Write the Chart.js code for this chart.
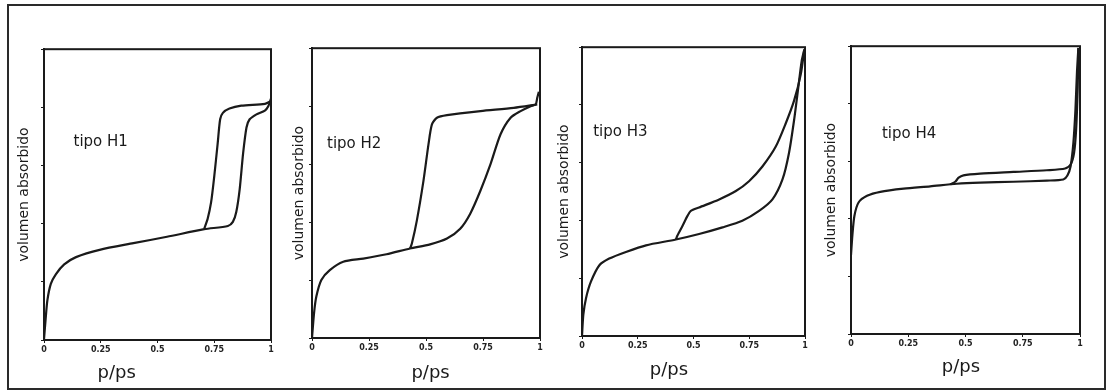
<!DOCTYPE html>
<html lang="es">
<head>
<meta charset="UTF-8">
<title>Tipos de histéresis</title>
<script src="https://cdn.jsdelivr.net/npm/chart.js"></script>
<style>
  body { margin: 0; background: #fff; }
  #marco { position: absolute; left: 7px; top: 4px; width: 1095px; height: 382px; border: 2px solid #2a2a2a; }
  canvas { position: absolute; }
</style>
</head>
<body>
<div id="marco"></div>
<canvas id="g1" width="267" height="351" style="left:12px;top:39px"></canvas>
<canvas id="g2" width="268" height="350" style="left:280px;top:38px"></canvas>
<canvas id="g3" width="263" height="349" style="left:550px;top:37px"></canvas>
<canvas id="g4" width="269" height="348" style="left:819px;top:36px"></canvas>

<script>
// etiquetas y ejes
const tipos = ['tipo H1', 'tipo H2', 'tipo H3', 'tipo H4'];
const tituloX = 'p/ps';
const tituloY = 'volumen absorbido';
const xTicks = [0, 0.25, 0.5, 0.75, 1];
const yTicks = [0, 0.2, 0.4, 0.6, 0.8, 1];

// curvas: [p/ps, volumen normalizado]
const h1Adsorcion = [[0, 0.002], [0.007, 0.07], [0.015, 0.137], [0.03, 0.193], [0.052, 0.226], [0.089, 0.26],
  [0.141, 0.285], [0.245, 0.31], [0.394, 0.333], [0.542, 0.355], [0.706, 0.381], [0.81, 0.392], [0.832, 0.406],
  [0.847, 0.44], [0.862, 0.518], [0.877, 0.641], [0.892, 0.731], [0.906, 0.759], [0.936, 0.776], [0.973, 0.789],
  [0.988, 0.804], [1.0, 0.83]];
const h1Desorcion = [[0.996, 0.82], [0.973, 0.812], [0.869, 0.806], [0.817, 0.796], [0.788, 0.781], [0.776, 0.759],
  [0.765, 0.675], [0.75, 0.563], [0.736, 0.473], [0.721, 0.417], [0.706, 0.383]];

const h2Adsorcion = [[0, 0], [0.009, 0.086], [0.019, 0.143], [0.041, 0.2], [0.078, 0.234], [0.137, 0.263],
  [0.225, 0.274], [0.327, 0.289], [0.43, 0.309], [0.518, 0.323], [0.592, 0.343], [0.65, 0.377], [0.694, 0.429],
  [0.739, 0.509], [0.783, 0.6], [0.827, 0.703], [0.871, 0.76], [0.915, 0.783], [0.959, 0.8], [0.981, 0.806],
  [0.988, 0.829], [0.995, 0.85]];
const h2Desorcion = [[0.988, 0.806], [0.885, 0.794], [0.739, 0.783], [0.592, 0.769], [0.548, 0.76], [0.526, 0.737],
  [0.511, 0.669], [0.489, 0.543], [0.46, 0.406], [0.438, 0.326], [0.43, 0.309]];

const h3Adsorcion = [[0, 0], [0.006, 0.074], [0.018, 0.131], [0.04, 0.188], [0.078, 0.245], [0.122, 0.268],
  [0.197, 0.291], [0.287, 0.314], [0.421, 0.334], [0.525, 0.353], [0.63, 0.376], [0.719, 0.399], [0.794, 0.433],
  [0.854, 0.473], [0.899, 0.542], [0.928, 0.633], [0.951, 0.747], [0.97, 0.861], [0.985, 0.952], [0.997, 0.992]];
const h3Desorcion = [[0.997, 0.992], [0.981, 0.906], [0.951, 0.815], [0.913, 0.735], [0.869, 0.656], [0.809, 0.587],
  [0.749, 0.536], [0.69, 0.502], [0.615, 0.473], [0.525, 0.445], [0.488, 0.433], [0.473, 0.416], [0.451, 0.382],
  [0.428, 0.348], [0.421, 0.334]];

const h4Adsorcion = [[0, 0.274], [0.006, 0.343], [0.015, 0.411], [0.033, 0.457], [0.07, 0.48], [0.128, 0.494],
  [0.23, 0.505], [0.346, 0.513], [0.462, 0.522], [0.564, 0.526], [0.709, 0.529], [0.855, 0.533], [0.927, 0.537],
  [0.945, 0.551], [0.959, 0.583], [0.971, 0.663], [0.98, 0.777], [0.987, 0.914], [0.993, 0.994]];
const h4Desorcion = [[0.993, 0.994], [0.99, 0.857], [0.983, 0.709], [0.974, 0.629], [0.959, 0.589], [0.935, 0.575],
  [0.855, 0.569], [0.709, 0.563], [0.564, 0.557], [0.491, 0.551], [0.47, 0.543], [0.455, 0.529], [0.433, 0.52]];

const tinta = '#1a1a1a';
const fuente = '"DejaVu Sans", sans-serif';

// marco del area de trazado y textos dentro/debajo de cada grafica
const textos = {
  id: 'textos',
  afterDraw(chart, args, opts) {
    const {ctx, chartArea: a, scales: {x, y}} = chart;
    ctx.save();
    ctx.lineWidth = 2;
    ctx.strokeStyle = tinta;
    ctx.strokeRect(a.left, a.top, a.right - a.left, a.bottom - a.top);
    ctx.fillStyle = tinta;
    ctx.textBaseline = 'middle';
    ctx.textAlign = 'left';
    ctx.font = '15px ' + fuente;
    ctx.fillText(opts.tipo, x.getPixelForValue(opts.tipoX), y.getPixelForValue(opts.tipoY));
    ctx.textAlign = 'center';
    ctx.font = '18px ' + fuente;
    ctx.fillText(tituloX, x.getPixelForValue(opts.ejeX), a.bottom + opts.ejeDy);
    ctx.restore();
  }
};

function linea(puntos) {
  return {
    data: puntos.map(p => ({x: p[0], y: p[1]})),
    borderColor: tinta,
    borderWidth: 2.2,
    pointRadius: 0,
    tension: 0.25,
    fill: false
  };
}

function dibujar(id, tipo, ads, des, pos) {
  new Chart(document.getElementById(id), {
    type: 'line',
    data: { datasets: [linea(ads), linea(des)] },
    plugins: [textos],
    options: {
      responsive: false,
      animation: false,
      layout: { padding: { top: 6, right: 8, left: 0, bottom: 0 } },
      plugins: {
        legend: { display: false },
        tooltip: { enabled: false },
        textos: { tipo: tipo, tipoX: pos.tipoX, tipoY: pos.tipoY, ejeX: pos.ejeX, ejeDy: pos.ejeDy }
      },
      scales: {
        x: {
          type: 'linear', min: 0, max: 1,
          afterBuildTicks: s => { s.ticks = xTicks.map(v => ({value: v})); },
          afterFit: s => { s.height = 50; },
          grid: { drawOnChartArea: false, drawTicks: true, tickLength: 3, color: tinta },
          border: { display: true, width: 2, color: tinta },
          ticks: { color: '#222', padding: 2, font: { size: 8, weight: 'bold', family: fuente }, callback: v => String(v) }
        },
        y: {
          min: 0, max: 1,
          afterBuildTicks: s => { s.ticks = yTicks.map(v => ({value: v})); },
          afterFit: s => { s.width = 32; },
          grid: { drawOnChartArea: false, drawTicks: true, tickLength: 3, color: tinta },
          border: { display: true, width: 2, color: tinta },
          ticks: { callback: () => '' },
          title: {
            display: true, text: tituloY, color: tinta,
            font: { size: 14, family: fuente }, padding: { top: pos.tituloPad, bottom: 0 }
          }
        }
      }
    }
  });
}

dibujar('g1', tipos[0], h1Adsorcion, h1Desorcion, {tipoX: 0.13, tipoY: 0.68, ejeX: 0.32, ejeDy: 33, tituloPad: 4});
dibujar('g2', tipos[1], h2Adsorcion, h2Desorcion, {tipoX: 0.066, tipoY: 0.67, ejeX: 0.52, ejeDy: 35, tituloPad: 11});
dibujar('g3', tipos[2], h3Adsorcion, h3Desorcion, {tipoX: 0.05, tipoY: 0.705, ejeX: 0.39, ejeDy: 34, tituloPad: 6});
dibujar('g4', tipos[3], h4Adsorcion, h4Desorcion, {tipoX: 0.135, tipoY: 0.695, ejeX: 0.48, ejeDy: 33, tituloPad: 4});
</script>
</body>
</html>
